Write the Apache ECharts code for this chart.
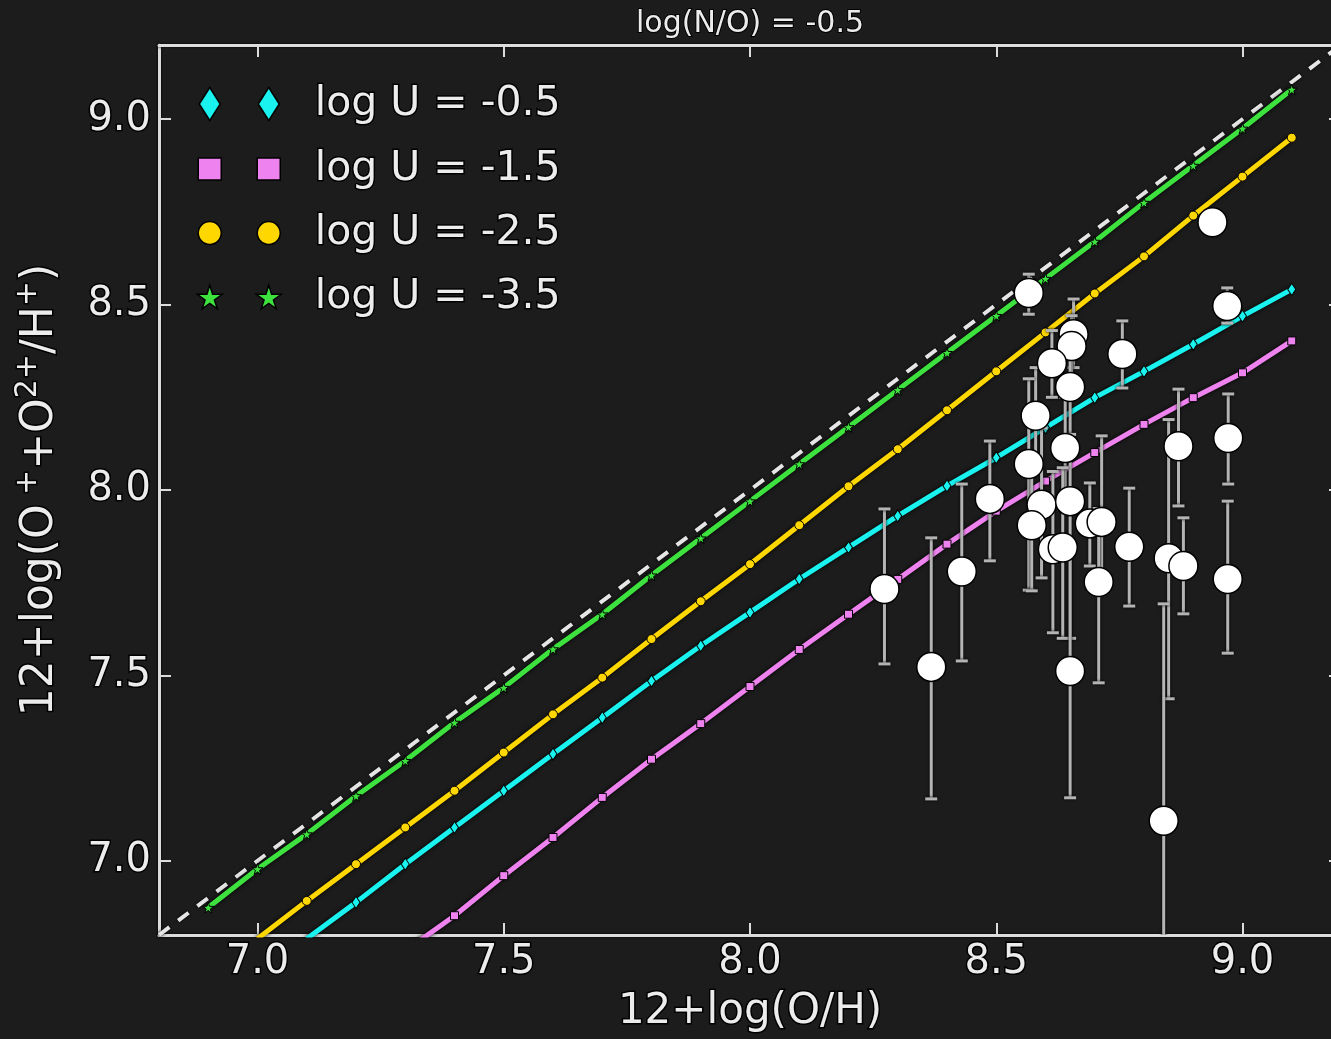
<!DOCTYPE html>
<html><head><meta charset="utf-8">
<script src="https://cdn.jsdelivr.net/npm/echarts@6/dist/echarts.min.js"></script>
<style>html,body{margin:0;padding:0;background:#1c1c1c;}#c{width:1331px;height:1039px;}</style>
</head><body><div id="c"></div>
<script>
// ---------- data ----------
const xGrid = [6.9,7.0,7.1,7.2,7.3,7.4,7.5,7.6,7.7,7.8,7.9,8.0,8.1,8.2,8.3,8.4,8.5,8.6,8.7,8.8,8.9,9.0,9.1];
const yU05 = [null,null,6.79,6.888,6.991,7.090,7.189,7.288,7.386,7.485,7.580,7.670,7.760,7.845,7.930,8.011,8.087,8.168,8.249,8.320,8.393,8.469,8.541];
const yU15 = [null,null,null,null,6.757,6.852,6.960,7.063,7.171,7.274,7.370,7.470,7.570,7.665,7.759,7.854,7.943,8.024,8.101,8.177,8.249,8.316,8.402];
const yU25 = [null,6.79,6.892,6.991,7.090,7.189,7.292,7.395,7.494,7.598,7.700,7.800,7.905,8.010,8.110,8.215,8.320,8.425,8.530,8.630,8.740,8.845,8.950];
const yU35 = [6.874,6.978,7.072,7.175,7.270,7.373,7.467,7.571,7.665,7.770,7.870,7.970,8.070,8.170,8.270,8.370,8.470,8.570,8.670,8.775,8.875,8.975,9.080];
const oneToOne = [6.8, 9.2];
const seriesNames = ['log U = -0.5','log U = -1.5','log U = -2.5','log U = -3.5'];

const obsX  = [8.566,8.939,8.969,8.657,8.653,8.756,8.613,8.650,8.580,8.640,8.870,8.971,8.566,8.487,8.592,8.650,8.572,8.690,8.714,8.615,8.635,8.770,8.850,8.880,8.430,8.970,8.708,8.273,8.368,8.650,8.840];
const obsY  = [8.531,8.722,8.496,8.420,8.388,8.367,8.342,8.278,8.200,8.113,8.118,8.140,8.070,7.976,7.960,7.970,7.905,7.910,7.914,7.840,7.845,7.847,7.816,7.795,7.780,7.760,7.752,7.733,7.523,7.512,7.108];
const obsLo = [8.474,8.690,8.450,8.330,8.300,8.275,8.250,8.150,8.060,7.980,7.957,8.016,7.730,7.809,7.763,7.600,7.728,7.795,7.750,7.615,7.600,7.687,7.437,7.666,7.539,7.560,7.480,7.531,7.167,7.170,6.600];
const obsHi = [8.582,8.750,8.545,8.515,8.470,8.456,8.430,8.400,8.330,8.250,8.272,8.259,8.300,8.132,8.167,8.120,8.080,8.019,8.146,8.050,8.060,8.005,8.190,7.925,8.016,7.970,7.950,7.949,7.871,7.850,7.693];

const xTicks = [7.0,7.5,8.0,8.5,9.0];
const yTicks = [7.0,7.5,8.0,8.5,9.0];

// ---------- style ----------
const FONT = 'DejaVu Sans';
const TXT = '#ececec';
const STAR = 'path://M50,0 L61,35 L98,35 L68,57 L79,91 L50,70 L21,91 L32,57 L2,35 L39,35 Z';
const colors = ['#19f2ee','#ee82ee','#ffd700','#3ee23e'];
const symbols = ['diamond','rect','circle',STAR];
const symSizes = [[8,12],8,9,11];
const ys = [yU05,yU15,yU25,yU35];

const axisLineStyle = {color:'#dcdcdc', width:3, shadowColor:'#000', shadowBlur:3};
const labelStyle = {color:TXT, fontSize:40, fontFamily:FONT, textBorderColor:'#000', textBorderWidth:3};

function lineSeries(i){
  return {
    type:'line', name:seriesNames[i], z:3+i,
    data: xGrid.map((x,k)=>[x, ys[i][k]]).filter(p=>p[1]!==null),
    symbol:symbols[i], symbolSize:symSizes[i], showSymbol:true, clip:true,
    lineStyle:{color:colors[i], width:5, shadowColor:'#000', shadowBlur:4},
    itemStyle:{color:colors[i], borderColor:'#000', borderWidth:1},
    emphasis:{disabled:true}, animation:false
  };
}
const seriesOrder = [3,2,0,1];

// legend: two icon columns + text
const legendIcon = [
  {icon:'diamond', w:21, h:33},
  {icon:'rect', w:23, h:22},
  {icon:'circle', w:23, h:23},
  {icon:STAR, w:25, h:25}
];
const rowY = [104,169,233,297];
const colX = [209,268];
const textX = 314;
const legends = [];
for (let r=0;r<4;r++){
  for (let c=0;c<2;c++){
    const L = legendIcon[r];
    const left = colX[c]-L.w/2;
    legends.push({
      show:true, orient:'vertical', left:left, top:rowY[r]-22, padding:0,
      itemWidth:L.w, itemHeight:L.h, selectedMode:false,
      data:[{name:seriesNames[r], icon:L.icon, itemStyle:{borderColor:'#000', borderWidth:1.5}}],
      formatter: c===0 ? () => ' ' : (n)=>n,
      textStyle:{color:TXT, fontSize:41, lineHeight:44, fontFamily:FONT, textBorderColor:'#000', textBorderWidth:3,
        padding:[0,0,0, c===0?0:(textX-(left+L.w+5))]}
    });
  }
}

const chart = echarts.init(document.getElementById('c'), null, {renderer:'canvas'});
chart.setOption({
  backgroundColor:'#1c1c1c',
  animation:false,
  title:{text:'log(N/O) = -0.5', left:750, textAlign:'center', top:9, padding:0,
    textStyle:{color:TXT, fontSize:30, fontWeight:'normal', fontFamily:FONT, textBorderColor:'#000', textBorderWidth:2}},
  legend: legends,
  grid:{left:159, width:1182, top:45, bottom:104, containLabel:false, outerBoundsMode:'none'},
  xAxis:[
    {type:'value', min:6.8, max:9.2, position:'bottom',
     name:'12+log(O/H)', nameLocation:'middle', nameGap:56,
     nameTextStyle:{color:TXT, fontSize:42, fontFamily:FONT, textBorderColor:'#000', textBorderWidth:3},
     axisLine:{show:true, onZero:false, lineStyle:axisLineStyle},
     axisTick:{show:true, inside:true, length:12, customValues:xTicks, lineStyle:{color:'#dcdcdc', width:2}},
     axisLabel:Object.assign({show:true, margin:8, customValues:xTicks, formatter:v=>v.toFixed(1)}, labelStyle),
     splitLine:{show:false}},
    {type:'value', min:6.8, max:9.2, position:'top',
     axisLine:{show:true, onZero:false, lineStyle:axisLineStyle},
     axisTick:{show:true, inside:true, length:12, customValues:xTicks, lineStyle:{color:'#dcdcdc', width:2}},
     axisLabel:{show:false}, splitLine:{show:false}}
  ],
  yAxis:[
    {type:'value', min:6.8, max:9.2, position:'left',
     name:'12+log(O{s| +}+O{s|2+}/H{s|+})', nameLocation:'middle', nameGap:90, nameRotate:90,
     nameTextStyle:{color:TXT, fontSize:44, lineHeight:56, fontFamily:FONT, textBorderColor:'#000', textBorderWidth:3,
       rich:{s:{color:TXT, fontSize:30, lineHeight:56, verticalAlign:'top', fontFamily:FONT, textBorderColor:'#000', textBorderWidth:3}}},
     axisLine:{show:true, onZero:false, lineStyle:axisLineStyle},
     axisTick:{show:true, inside:true, length:12, customValues:yTicks, lineStyle:{color:'#dcdcdc', width:2}},
     axisLabel:Object.assign({show:true, margin:8, customValues:yTicks, formatter:v=>v.toFixed(1)}, labelStyle),
     splitLine:{show:false}},
    {type:'value', min:6.8, max:9.2, position:'right',
     axisLine:{show:true, onZero:false, lineStyle:axisLineStyle},
     axisTick:{show:true, inside:true, length:12, customValues:yTicks, lineStyle:{color:'#dcdcdc', width:2}},
     axisLabel:{show:false}, splitLine:{show:false}}
  ],
  series:[
    {type:'line', name:'1:1', z:2, data:[[oneToOne[0],oneToOne[0]],[oneToOne[1],oneToOne[1]]],
     symbol:'none', clip:true,
     lineStyle:{color:'#e6e6e6', width:4, type:[13,11], shadowColor:'#000', shadowBlur:3},
     emphasis:{disabled:true}},
    ...seriesOrder.map(lineSeries),
    {type:'custom', name:'err', z:8, clip:true,
     data: obsX.map((x,i)=>[x, obsLo[i], obsHi[i]]),
     encode:{x:0, y:[1,2]},
     renderItem:(params, api)=>{
       const x = api.value(0);
       const lo = api.coord([x, api.value(1)]);
       const hi = api.coord([x, api.value(2)]);
       const cw = 6;
       const st = {stroke:'#b4b4b4', lineWidth:3, shadowColor:'#000', shadowBlur:3};
       return {type:'group', children:[
         {type:'line', shape:{x1:lo[0],y1:lo[1],x2:hi[0],y2:hi[1]}, style:st},
         {type:'line', shape:{x1:lo[0]-cw,y1:lo[1],x2:lo[0]+cw,y2:lo[1]}, style:st},
         {type:'line', shape:{x1:hi[0]-cw,y1:hi[1],x2:hi[0]+cw,y2:hi[1]}, style:st}
       ]};
     }},
    {type:'scatter', name:'obs', z:9, data: obsX.map((x,i)=>[x, obsY[i]]),
     symbol:'circle', symbolSize:29,
     itemStyle:{color:'#ffffff', borderColor:'#000', borderWidth:1.5, opacity:1},
     emphasis:{disabled:true}}
  ]
});
</script>
</body></html>
